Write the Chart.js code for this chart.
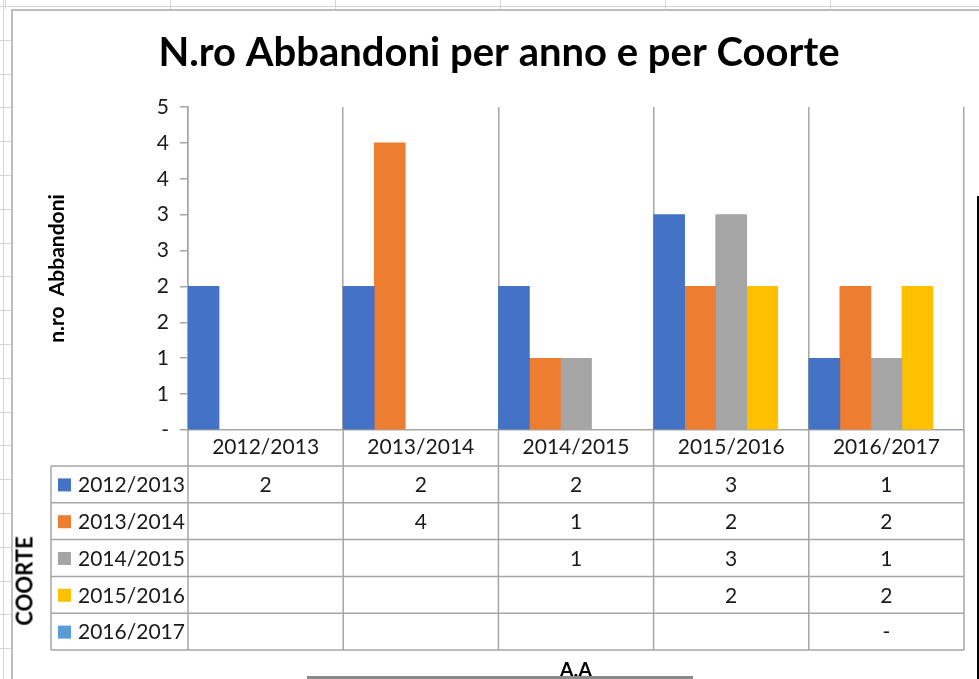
<!DOCTYPE html>
<html>
<head>
<meta charset="utf-8">
<script src="https://cdn.jsdelivr.net/npm/chart.js@4.4.1/dist/chart.umd.min.js"></script>
<style>
  html, body { margin: 0; padding: 0; background: #fff; }
  #page { position: relative; width: 979px; height: 679px; overflow: hidden; background: #fff; font-family: Lato, sans-serif; }
  .sheetTop {
    position: absolute; left: 0; top: 0; width: 979px; height: 9px;
    background-image:
      linear-gradient(#d6d6d6, #d6d6d6),
      repeating-linear-gradient(to right, transparent 0px, transparent 5px, #d6d6d6 5px, #d6d6d6 6px, transparent 6px, transparent 165px);
    background-size: 100% 1px, 100% 100%;
    background-position: 0 6px, 0 0;
    background-repeat: no-repeat, no-repeat;
  }
  .sheetLeft {
    position: absolute; left: 0; top: 0; width: 11px; height: 679px;
    background-image:
      linear-gradient(#d6d6d6, #d6d6d6),
      repeating-linear-gradient(to bottom, transparent 0px, transparent 6px, #d6d6d6 6px, #d6d6d6 7px, transparent 7px, transparent 33.8px);
    background-size: 1px 100%, 100% 100%;
    background-position: 3px 0, 0 0;
    background-repeat: no-repeat, no-repeat;
  }
  .frame { position: absolute; left: 11px; top: 9px; width: 1200px; height: 1200px; border-left: 2px solid #bdbdbd; border-top: 2px solid #bdbdbd; background: #fff; }
  canvas { position: absolute; left: 0; top: 0; }
  .label { position: absolute; font-family: Lato, sans-serif; font-weight: bold; color: #000; white-space: nowrap; }
  #coorte { left: 24px; top: 581px; font-size: 22px; transform: translate(-50%, -50%) rotate(-90deg); }
  #aa { left: 576px; top: 657px; font-size: 20px; transform: translateX(-50%); }
  .blackLine { position: absolute; left: 977px; top: 196px; width: 2px; height: 483px; background: #000; }
  .scrollBar { position: absolute; left: 307px; top: 676px; width: 386px; height: 3px; background: #8a8a8a; }
</style>
</head>
<body>
<div id="page">
  <div class="sheetTop"></div>
  <div class="sheetLeft"></div>
  <div class="frame"></div>
  <canvas id="chart" width="979" height="679"></canvas>
  <div class="label" id="coorte">COORTE</div>
  <div class="label" id="aa">A.A</div>
  <div class="blackLine"></div>
  <div class="scrollBar"></div>
</div>
<script>
// anni accademici (asse X)
const years = ['2012/2013', '2013/2014', '2014/2015', '2015/2016', '2016/2017'];
// coorti (serie)
const cohorts = ['2012/2013', '2013/2014', '2014/2015', '2015/2016', '2016/2017'];
const colors = ['#4472C4', '#ED7D31', '#A5A5A5', '#FFC000', '#5B9BD5'];
// abbandoni per coorte
const coorte2012 = [2, 2, 2, 3, 1];
const coorte2013 = [null, 4, 1, 2, 2];
const coorte2014 = [null, null, 1, 3, 1];
const coorte2015 = [null, null, null, 2, 2];
const coorte2016 = [null, null, null, null, 0];
const series = [coorte2012, coorte2013, coorte2014, coorte2015, coorte2016];

const yMax = 4.5;
const yStep = 0.5;

const lineColor = '#a6a6a6';
const textColor = '#1a1a1a';
const font = 'Lato';

function cellText(v) {
  if (v === null || v === undefined) return '';
  if (v === 0) return '-';
  return String(v);
}

const dataTable = {
  id: 'dataTable',
  afterDraw(chart) {
    const { ctx, chartArea } = chart;
    const x = chart.scales.x;
    const colW = (x.right - x.left) / years.length;
    const tableLeft = 51;
    const headerH = 36;
    const rowH = 36.8;
    const tableTop = chartArea.bottom + headerH;
    const tableBottom = tableTop + rowH * cohorts.length;

    ctx.save();
    ctx.strokeStyle = lineColor;
    ctx.lineWidth = 1.5;
    ctx.beginPath();
    for (let i = 0; i <= years.length; i++) {
      const px = x.left + i * colW;
      ctx.moveTo(px, chartArea.bottom);
      ctx.lineTo(px, tableBottom);
    }
    ctx.moveTo(tableLeft, tableTop);
    ctx.lineTo(tableLeft, tableBottom);
    for (let r = 0; r <= cohorts.length; r++) {
      const py = tableTop + r * rowH;
      ctx.moveTo(tableLeft, py);
      ctx.lineTo(x.right, py);
    }
    ctx.stroke();

    ctx.font = '21px ' + font;
    ctx.textBaseline = 'middle';
    cohorts.forEach((name, r) => {
      const cy = tableTop + r * rowH + rowH / 2;
      ctx.fillStyle = colors[r];
      ctx.fillRect(58, cy - 6, 13, 13);
      ctx.fillStyle = textColor;
      ctx.textAlign = 'left';
      ctx.fillText(name, 78, cy + 1);
      ctx.textAlign = 'center';
      series[r].forEach((v, i) => {
        ctx.fillText(cellText(v), x.getPixelForValue(i), cy + 1);
      });
    });
    ctx.restore();
  }
};

new Chart(document.getElementById('chart'), {
  type: 'bar',
  data: {
    labels: years,
    datasets: cohorts.map((name, i) => ({
      label: name,
      data: series[i],
      backgroundColor: colors[i],
      borderWidth: 0,
      categoryPercentage: 1,
      barPercentage: 1
    }))
  },
  options: {
    responsive: false,
    animation: false,
    layout: { padding: { left: 34, right: 15, top: 0, bottom: 29 } },
    plugins: {
      legend: { display: false },
      tooltip: { enabled: false },
      title: {
        display: true,
        text: 'N.ro Abbandoni per anno e per Coorte',
        color: '#000',
        font: { family: font, size: 40, weight: 'bold' },
        padding: { top: 29, bottom: 30 }
      }
    },
    scales: {
      x: {
        grid: { display: true, offset: true, drawTicks: false, color: lineColor, lineWidth: 1.5 },
        border: { display: true, color: lineColor, width: 1.5 },
        ticks: { color: textColor, font: { family: font, size: 21 }, padding: 5 },
        afterFit(scale) { scale.height = 220; }
      },
      y: {
        min: 0,
        max: yMax,
        grid: { drawOnChartArea: false, drawTicks: true, tickLength: 8, color: lineColor, lineWidth: 1.5 },
        border: { display: true, color: lineColor, width: 1.5 },
        ticks: {
          stepSize: yStep,
          color: textColor,
          padding: 11,
          font: { family: font, size: 21 },
          callback: v => (v === 0 ? '-' : Math.round(v))
        },
        title: {
          display: true,
          text: 'n.ro  Abbandoni',
          color: '#000',
          font: { family: font, size: 21, weight: 'bold' },
          padding: { top: 11 }
        },
        afterFit(scale) { scale.width = 154; }
      }
    }
  },
  plugins: [dataTable]
});
</script>
</body>
</html>
